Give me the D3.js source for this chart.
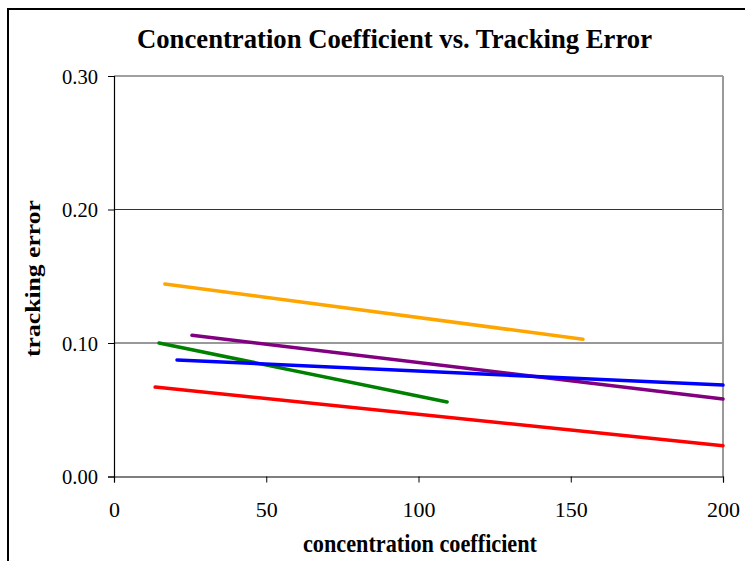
<!DOCTYPE html>
<html>
<head>
<meta charset="utf-8">
<script src="https://cdn.jsdelivr.net/npm/d3@7"></script>
<style>
  html, body { margin: 0; padding: 0; background: #fff; }
  svg { display: block; }
  svg text { font-family: "Liberation Serif", "Times New Roman", serif !important; fill: #000; }
</style>
</head>
<body>
<svg id="chart" width="745" height="561"></svg>
<script>
// ---- data ----
const seriesNames = ["orange", "purple", "green", "blue", "red"];
const seriesColors = ["#FFA500", "#800080", "#008000", "#0000FF", "#FF0000"];
const orangeX = [16.7, 154.0];
const orangeY = [0.1442, 0.1028];
const purpleX = [25.6, 200];
const purpleY = [0.1058, 0.0581];
const greenX = [14.8, 109.4];
const greenY = [0.1000, 0.0558];
const blueX = [20.7, 200];
const blueY = [0.0873, 0.0685];
const redX = [13.5, 200];
const redY = [0.0670, 0.0231];
const xTicks = [0, 50, 100, 150, 200];
const yTicks = [0.00, 0.10, 0.20, 0.30];
const titleText = "Concentration Coefficient vs. Tracking Error";
const xTitle = "concentration coefficient";
const yTitle = "tracking error";

const seriesData = [
  [orangeX, orangeY], [purpleX, purpleY], [greenX, greenY], [blueX, blueY], [redX, redY]
].map((s, i) => ({ name: seriesNames[i], color: seriesColors[i],
  pts: s[0].map((x, j) => ({ x: x, y: s[1][j] })) }));

// ---- layout ----
const svg = d3.select("#chart");
const L = 114, R = 723, T = 76, B = 476.5;
const x = d3.scaleLinear().domain([0, 200]).range([L, R]);
const y = d3.scaleLinear().domain([0, 0.30]).range([B, T]);
const serif = '"Liberation Serif", "Times New Roman", serif';

// outer frame
svg.append("rect").attr("x", 8).attr("y", 9).attr("width", 800).attr("height", 600)
  .attr("fill", "none").attr("stroke", "#000").attr("stroke-width", 2);

// gridlines
svg.append("g").selectAll("line").data(yTicks.filter(d => d > 0 && d < 0.3)).join("line")
  .attr("x1", L).attr("x2", R).attr("y1", d => y(d)).attr("y2", d => y(d))
  .attr("stroke", "#333").attr("stroke-width", 1);

// plot border top & right (gray)
svg.append("line").attr("x1", L).attr("x2", R).attr("y1", y(0.3)).attr("y2", y(0.3))
  .attr("stroke", "#808080").attr("stroke-width", 1.5);
svg.append("line").attr("x1", R).attr("x2", R).attr("y1", T).attr("y2", B)
  .attr("stroke", "#999").attr("stroke-width", 2);

// axes
const yAxis = d3.axisLeft(y).tickValues(yTicks).tickFormat(d3.format(".2f")).tickSize(6).tickPadding(10);
const gy = svg.append("g").attr("transform", `translate(${L},0)`).call(yAxis)
  .attr("font-family", null);
gy.select(".domain").attr("stroke", "#000").attr("stroke-width", 1.2);
gy.selectAll(".tick line").attr("stroke", "#000");
gy.selectAll(".tick text").style("font-family", serif).style("font-size", "22px")
  .attr("fill", "#000").attr("dy", "0.33em")
  .attr("textLength", 36).attr("lengthAdjust", "spacingAndGlyphs");

const xAxis = d3.axisBottom(x).tickValues(xTicks).tickFormat(d3.format("d")).tickSize(6).tickPadding(19);
const gx = svg.append("g").attr("transform", `translate(0,${B})`).call(xAxis)
  .attr("font-family", null);
gx.select(".domain").attr("stroke", "#000").attr("stroke-width", 1.2);
gx.selectAll(".tick line").attr("stroke", "#000");
gx.selectAll(".tick text").style("font-family", serif).style("font-size", "22px")
  .attr("fill", "#000");

// lines
const line = d3.line().x(d => x(d.x)).y(d => y(d.y));
svg.append("g").selectAll("path").data(seriesData).join("path")
  .attr("d", d => line(d.pts)).attr("fill", "none")
  .attr("stroke", d => d.color).attr("stroke-width", 3.5).attr("stroke-linecap", "round");

// titles
svg.append("text").attr("x", 137).attr("y", 48).style("font-size", "27px").attr("font-weight", "bold")
  .attr("textLength", 515).attr("lengthAdjust", "spacingAndGlyphs").text(titleText);
svg.append("text").attr("x", 303).attr("y", 552).style("font-size", "25px").attr("font-weight", "bold")
  .attr("textLength", 234).attr("lengthAdjust", "spacingAndGlyphs").text(xTitle);
svg.append("text").attr("transform", "translate(40,357) rotate(-90)")
  .style("font-size", "21px").attr("font-weight", "bold")
  .attr("textLength", 157).attr("lengthAdjust", "spacingAndGlyphs").text(yTitle);
</script>
</body>
</html>
